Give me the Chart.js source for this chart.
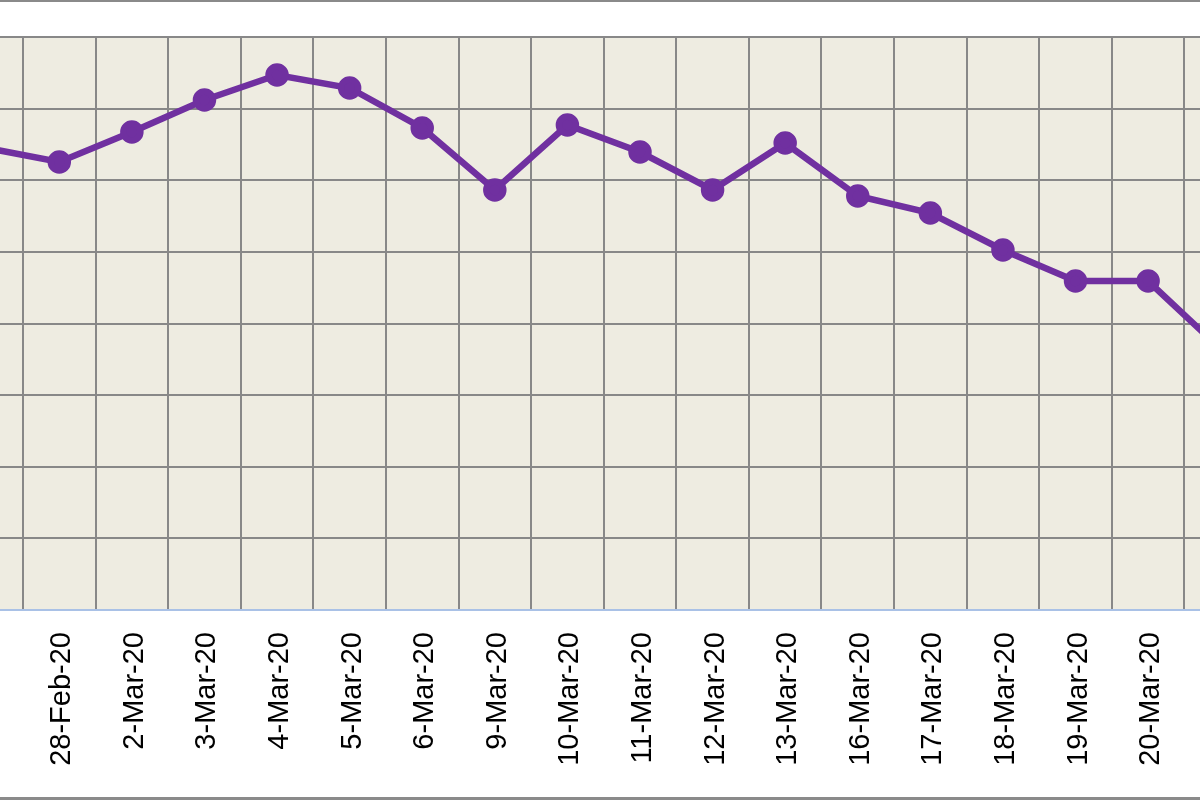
<!DOCTYPE html>
<html lang="en">

<head>
    <meta charset="UTF-8">
    <title>Daily line chart</title>
    <style>
        html, body {
            margin: 0;
            padding: 0;
            width: 1200px;
            height: 800px;
            overflow: hidden;
            background: #fff;
        }
        /* chart is wider than the window: left and right parts are cropped */
        #grafik-container {
            position: absolute;
            left: -100px;
            top: 0;
            width: 1387px;
            height: 800px;
        }
        .edge {
            position: absolute;
            left: 0;
            width: 1200px;
            background: #8a8a8a;
        }
    </style>
</head>

<body>
    <div id="grafik-container">
        <canvas id="grafikGaris"></canvas>
    </div>
    <div class="edge" style="top:0;height:2px"></div>
    <div class="edge" style="top:797px;height:3px"></div>

    <script src="https://cdn.jsdelivr.net/npm/chart.js@4"></script>
    <script>
        var labels = ['27-Feb-20', '28-Feb-20', '2-Mar-20', '3-Mar-20', '4-Mar-20', '5-Mar-20',
            '6-Mar-20', '9-Mar-20', '10-Mar-20', '11-Mar-20', '12-Mar-20', '13-Mar-20',
            '16-Mar-20', '17-Mar-20', '18-Mar-20', '19-Mar-20', '20-Mar-20', '23-Mar-20'];

        var values = [645, 625.5, 667.4, 712.0, 746.9, 728.8,
            673.0, 586.4, 677.1, 639.4, 586.4, 652.0,
            578.0, 554.3, 502.6, 459.3, 459.3, 364.4];

        var yMin = 0;
        var yMax = 800;
        var yStep = 100;

        // beige plot area behind the grid
        var plotBackground = {
            id: 'plotBackground',
            beforeDraw: function (chart) {
                var a = chart.chartArea;
                var c = chart.ctx;
                c.save();
                c.fillStyle = '#eeece1';
                c.fillRect(a.left, a.top, a.right - a.left, a.bottom - a.top);
                c.restore();
            }
        };

        var ctx = document.getElementById('grafikGaris').getContext('2d');

        const grafik = new Chart(ctx, {
            type: 'line',
            data: {
                labels: labels,
                datasets: [{
                    data: values,
                    borderColor: '#7030a0',
                    backgroundColor: '#7030a0',
                    borderWidth: 6.5,
                    pointRadius: 8.5,
                    pointHoverRadius: 8.5,
                    tension: 0
                }]
            },
            options: {
                responsive: true,
                maintainAspectRatio: false,
                animation: false,
                layout: {
                    padding: { left: 50.4, right: 30, top: 37, bottom: 0 }
                },
                plugins: {
                    legend: { display: false },
                    tooltip: { enabled: false }
                },
                scales: {
                    x: {
                        offset: true,
                        grid: {
                            offset: true,
                            color: '#888888',
                            lineWidth: 2,
                            drawTicks: false
                        },
                        border: { color: '#a9c1e6', width: 2 },
                        ticks: {
                            autoSkip: false,
                            minRotation: 90,
                            maxRotation: 90,
                            padding: 22,
                            labelOffset: 3,
                            font: { family: 'Liberation Sans', size: 29 },
                            color: function (c) {
                                return c.index === 0 ? '#2fb0e8' : '#000000';
                            }
                        },
                        afterFit: function (scale) {
                            scale.height = 190;
                        }
                    },
                    y: {
                        min: yMin,
                        max: yMax,
                        grid: {
                            color: '#888888',
                            lineWidth: 2,
                            drawTicks: false
                        },
                        border: { display: false },
                        ticks: { display: false, stepSize: yStep },
                        afterFit: function (scale) {
                            scale.width = 0;
                        }
                    }
                }
            },
            plugins: [plotBackground]
        });
    </script>
</body>

</html>
